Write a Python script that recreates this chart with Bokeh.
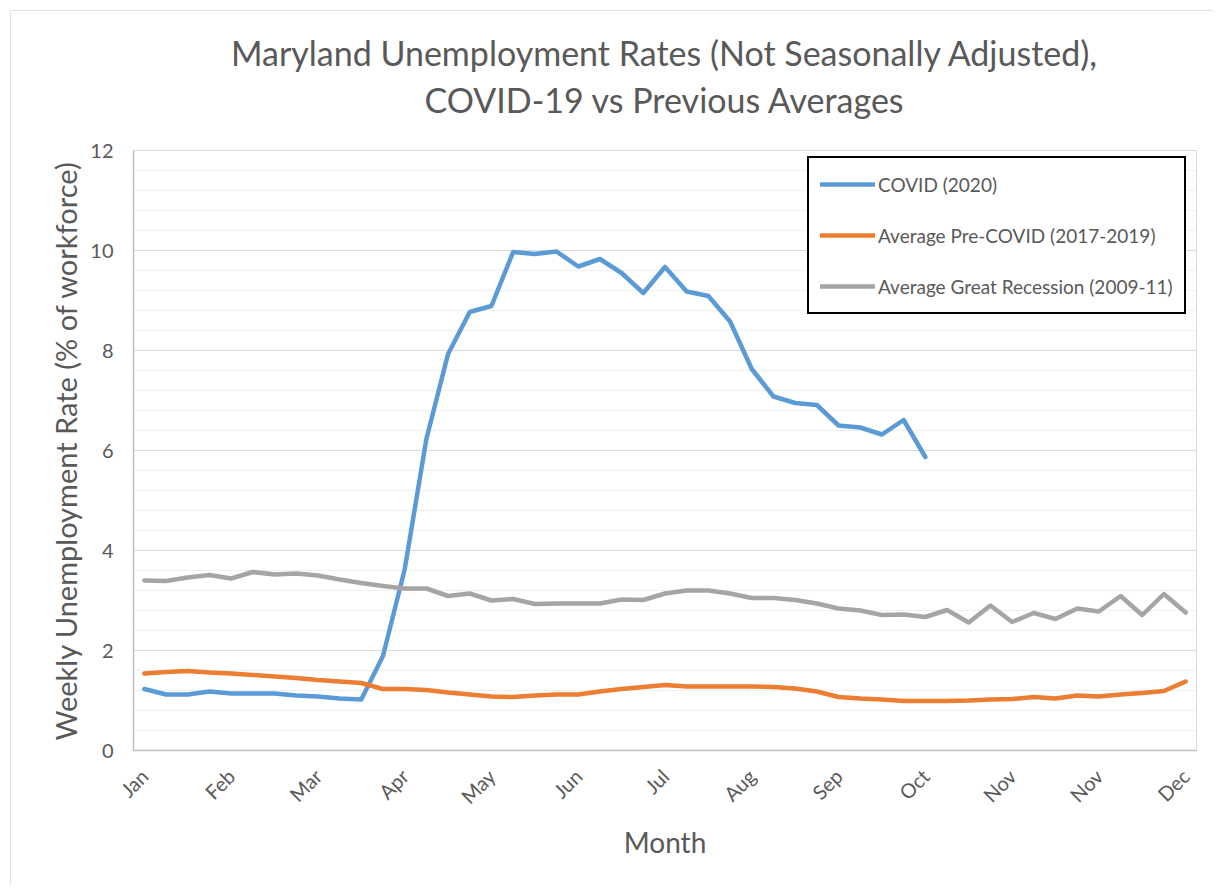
import math
from bokeh.plotting import figure
from bokeh.models import FixedTicker, Title, Legend, LegendItem
from bokeh.embed import file_html
from bokeh.resources import INLINE

# ---- data ----
month_labels = ["Jan", "Feb", "Mar", "Apr", "May", "Jun", "Jul", "Aug", "Sep", "Oct", "Nov", "Nov", "Dec"]
label_weeks = [0, 4, 8, 12, 16, 20, 24, 28, 32, 36, 40, 44, 48]

covid_2020 = [1.23, 1.12, 1.12, 1.18, 1.14, 1.14, 1.14, 1.10, 1.08, 1.04, 1.02,
              1.89, 3.62, 6.23, 7.93, 8.77, 8.89, 9.97,
              9.93, 9.98, 9.68, 9.83, 9.55, 9.15, 9.67, 9.18, 9.09, 8.58, 7.63, 7.08,
              6.95, 6.91, 6.50, 6.46, 6.32, 6.61, 5.87]
pre_covid_avg = [1.54, 1.57, 1.59, 1.56, 1.54, 1.51, 1.48, 1.45, 1.41, 1.38, 1.35, 1.23,
                 1.23, 1.21, 1.16, 1.12, 1.08, 1.07,
                 1.10, 1.12, 1.12, 1.18, 1.23, 1.27, 1.31, 1.28, 1.28, 1.28, 1.28, 1.27,
                 1.24, 1.18, 1.07, 1.04, 1.02, 0.99, 0.99,
                 0.99, 1.00, 1.02, 1.03, 1.07, 1.04, 1.10, 1.08, 1.12, 1.15, 1.19, 1.38]
great_recession_avg = [3.40, 3.39, 3.46, 3.51, 3.44, 3.57, 3.52, 3.54, 3.50, 3.42, 3.35, 3.29,
                       3.24, 3.24, 3.09, 3.14, 3.00, 3.03,
                       2.93, 2.94, 2.94, 2.94, 3.02, 3.01, 3.14, 3.20, 3.20, 3.14, 3.05, 3.05,
                       3.01, 2.94, 2.84, 2.80, 2.71, 2.72, 2.67,
                       2.81, 2.56, 2.90, 2.57, 2.75, 2.63, 2.84, 2.78, 3.09, 2.71, 3.13, 2.76]
title_lines = ["Maryland Unemployment Rates (Not Seasonally Adjusted),",
               "COVID-19 vs Previous Averages"]

weeks_covid = list(range(len(covid_2020)))
weeks_all = list(range(len(pre_covid_avg)))

FONT = "Lato"
TXT = "#595959"

p = figure(width=1203, height=875, x_range=(-0.5, 48.5), y_range=(0, 12),
           output_backend="svg", toolbar_location=None,
           min_border_left=122, min_border_right=18, min_border_top=139, min_border_bottom=136)
p.background_fill_color = "white"
p.border_fill_color = "white"
p.outline_line_color = "#d9d9d9"
p.styles = {"margin-left": "10px", "margin-top": "10px",
            "border-left": "1px solid #e3e3e3", "border-top": "1px solid #e3e3e3"}

# titles: a thin spacer next to the plot, then line 2, then line 1 stacked above
spacer = Title(text=" ", text_font_size="1px", standoff=28)
t2 = Title(text=title_lines[1], align="center", text_font=FONT,
           text_font_size="34px", text_font_style="normal", text_color=TXT, standoff=0)
t1 = Title(text=title_lines[0], align="center", text_font=FONT,
           text_font_size="34px", text_font_style="normal", text_color=TXT, standoff=8)
p.add_layout(spacer, "above")
p.add_layout(t2, "above")
p.add_layout(t1, "above")

# lines
r1 = p.line(weeks_covid, covid_2020, line_color="#5B9BD5", line_width=4.5, line_join="round", line_cap="round")
r2 = p.line(weeks_all, pre_covid_avg, line_color="#ED7D31", line_width=4.5, line_join="round", line_cap="round")
r3 = p.line(weeks_all, great_recession_avg, line_color="#A5A5A5", line_width=4.5, line_join="round", line_cap="round")

# axes
p.yaxis.ticker = FixedTicker(ticks=[0, 2, 4, 6, 8, 10, 12],
                             minor_ticks=[round(0.4 * k, 1) for k in range(31)])
p.xaxis.ticker = FixedTicker(ticks=label_weeks)
p.xaxis.major_label_overrides = {w: m for w, m in zip(label_weeks, month_labels)}
p.xaxis.major_label_orientation = math.pi / 4

for ax in (p.xaxis[0], p.yaxis[0]):
    ax.axis_line_color = "#bfbfbf"
    ax.axis_line_width = 1.5
    ax.major_tick_line_color = None
    ax.minor_tick_line_color = None
    ax.major_label_text_font = FONT
    ax.major_label_text_color = TXT
    ax.major_label_text_font_size = "20px"
    ax.axis_label_text_font = FONT
    ax.axis_label_text_font_size = "28px"
    ax.axis_label_text_font_style = "normal"
    ax.axis_label_text_color = TXT

p.yaxis.axis_label_text_font_size = "29px"
p.xaxis.axis_label = "Month"
p.yaxis.axis_label = "Weekly Unemployment Rate (% of workforce)"
p.yaxis.major_label_standoff = 14
p.xaxis.major_label_standoff = 16
p.xaxis.axis_label_standoff = 5
p.yaxis.axis_label_standoff = 4

p.xgrid.grid_line_color = None
p.ygrid.grid_line_color = "#d9d9d9"
p.ygrid.grid_line_width = 1
p.ygrid.minor_grid_line_color = "#efefef"
p.ygrid.minor_grid_line_width = 1

legend = Legend(items=[
    LegendItem(label="COVID (2020)", renderers=[r1]),
    LegendItem(label="Average Pre-COVID (2017-2019)", renderers=[r2]),
    LegendItem(label="Average Great Recession (2009-11)", renderers=[r3]),
], location=(674, 436))
legend.margin = 0
legend.padding = 11
legend.spacing = 21
legend.label_height = 30
legend.glyph_height = 30
legend.glyph_width = 55
legend.label_standoff = 3
legend.label_text_font = FONT
legend.label_text_font_size = "19px"
legend.label_text_color = TXT
legend.border_line_color = "black"
legend.border_line_alpha = 1
legend.border_line_width = 2
legend.background_fill_color = "white"
legend.background_fill_alpha = 1
p.add_layout(legend, "center")

open("out.html", "w").write(file_html(p, INLINE))
